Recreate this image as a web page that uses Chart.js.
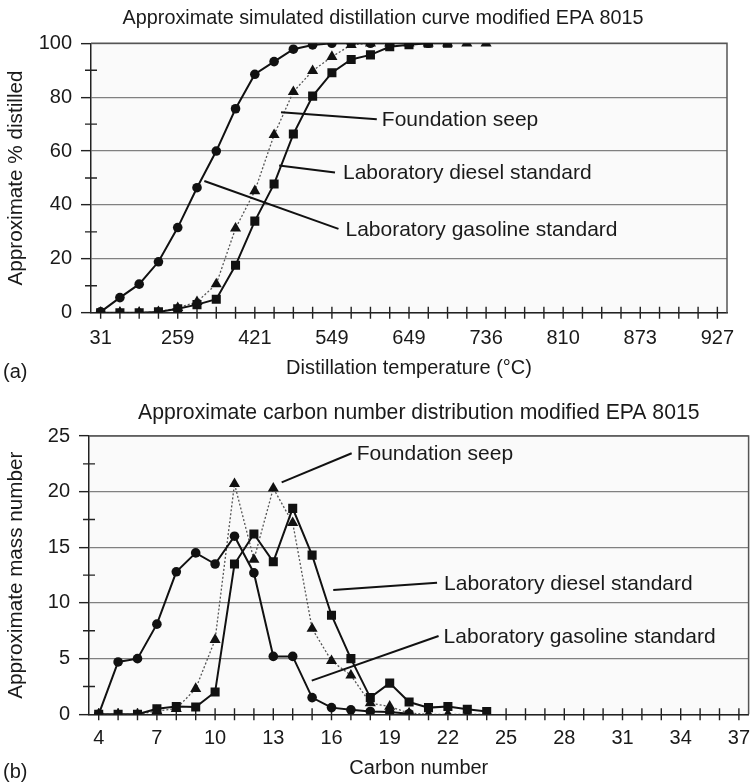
<!DOCTYPE html>
<html>
<head>
<meta charset="utf-8">
<script src="https://cdn.jsdelivr.net/npm/chart.js@4.4.1/dist/chart.umd.min.js"></script>
<style>
  html, body { margin: 0; padding: 0; background: #fff; }
  #page { position: relative; width: 755px; height: 782px; }
  #distCanvas { position: absolute; left: 0; top: 0; }
  #carbonCanvas { position: absolute; left: 0; top: 390px; }
</style>
</head>
<body>
<div id="page">
  <canvas id="distCanvas" width="755" height="390"></canvas>
  <canvas id="carbonCanvas" width="755" height="392"></canvas>
</div>
<script>
// ---- (a) simulated distillation curve ----
// temperature steps (°C); only every fourth step carries a printed label
const tempCategories = [
  '31', '', '', '', '259', '', '', '', '421', '', '', '', '549', '', '', '', '649',
  '', '', '', '736', '', '', '', '810', '', '', '', '873', '', '', '', '927'
];
const distGasoline = [0.3, 5.6, 10.6, 18.9, 31.6, 46.4, 60, 75.7, 88.5, 93.2, 97.8, 99.4, 100, 100, 100, 100, 100, 100];
const distSeep     = [0, 0, 0, 0.3, 1.8, 4.0, 10.6, 31.3, 45.2, 66, 82, 89.8, 95, 99.4, 100, 100, 100, 100, 100, 100, 100];
const distDiesel   = [0, 0, 0, 0.3, 1.5, 3.0, 5.0, 17.6, 34.0, 47.8, 66.3, 80.4, 89.1, 94, 95.7, 98.7, 99.5, 100, 100];

// ---- (b) carbon number distribution ----
const carbonNumbers = [4, 5, 6, 7, 8, 9, 10, 11, 12, 13, 14, 15, 16, 17, 18, 19, 20,
                       21, 22, 23, 24, 25, 26, 27, 28, 29, 30, 31, 32, 33, 34, 35, 36, 37];
const carbonGasoline = [0, 4.7, 5.0, 8.1, 12.8, 14.5, 13.5, 16.0, 12.7, 5.2, 5.2, 1.5, 0.6, 0.4, 0.25, 0.2, 0.05];
const carbonSeep     = [0, 0, 0, 0.3, 0.5, 2.3, 6.7, 20.7, 13.9, 20.3, 17.2, 7.7, 4.8, 3.5, 1.0, 0.7, 0.1, 0, 0, 0, 0];
const carbonDiesel   = [0, 0, 0, 0.5, 0.7, 0.65, 2.0, 13.5, 16.2, 13.7, 18.5, 14.3, 8.9, 5.0, 1.5, 2.8, 1.1, 0.6, 0.7, 0.45, 0.25];

const FONT = "'Liberation Sans', Arial, Helvetica, sans-serif";
const INK = '#1a1a1a';
Chart.defaults.font.family = FONT;
Chart.defaults.font.size = 20;
Chart.defaults.color = INK;

// Callout labels: line from a point on the curves (category index, value) to the text anchor
const distNotes = [
  { text: 'Foundation seep',              from: [9.36, 74.4], to: [14.33, 71.8], gap: 5 },
  { text: 'Laboratory diesel standard',   from: [9.26, 54.6], to: [12.16, 52.0], gap: 8 },
  { text: 'Laboratory gasoline standard', from: [5.38, 48.9], to: [12.34, 31.1], gap: 7 }
];
const carbonNotes = [
  { text: 'Foundation seep',              from: [9.43, 20.84], to: [13.04, 23.45], gap: 5 },
  { text: 'Laboratory diesel standard',   from: [12.09, 11.17], to: [17.44, 11.82], gap: 7 },
  { text: 'Laboratory gasoline standard', from: [10.98, 3.02],  to: [17.52, 7.03],  gap: 5 }
];

const panelFrame = {
  id: 'panelFrame',
  beforeDraw(chart) {
    const { ctx, chartArea: a } = chart;
    ctx.save();
    ctx.fillStyle = '#fafafa';
    ctx.fillRect(a.left, a.top, a.right - a.left, a.bottom - a.top);
    ctx.restore();
  },
  beforeDatasetsDraw(chart, args, o) {
    const { ctx, chartArea: a, scales: { x, y } } = chart;
    ctx.save();
    // outer frame on top and right
    ctx.strokeStyle = '#555';
    ctx.lineWidth = 1.5;
    ctx.beginPath();
    ctx.moveTo(a.left, a.top); ctx.lineTo(a.right, a.top); ctx.lineTo(a.right, a.bottom);
    ctx.stroke();
    // tick marks crossing the axes
    ctx.strokeStyle = '#222';
    ctx.lineWidth = 1.4;
    ctx.beginPath();
    for (let i = 0; i < chart.data.labels.length; i++) {
      const px = x.getPixelForValue(i);
      ctx.moveTo(px, a.bottom - 6); ctx.lineTo(px, a.bottom + 6);
    }
    for (const v of o.minorY) {
      const py = y.getPixelForValue(v);
      ctx.moveTo(a.left - 6, py); ctx.lineTo(a.left + 6, py);
    }
    ctx.stroke();
    ctx.restore();
  },
  afterDatasetsDraw(chart, args, o) {
    const { ctx, scales: { x, y } } = chart;
    ctx.save();
    ctx.strokeStyle = '#111';
    ctx.lineWidth = 2;
    ctx.fillStyle = INK;
    ctx.font = '21px ' + FONT;
    ctx.textAlign = 'left';
    ctx.textBaseline = 'middle';
    for (const n of o.notes) {
      const x0 = x.getPixelForValue(n.from[0]), y0 = y.getPixelForValue(n.from[1]);
      const x1 = x.getPixelForValue(n.to[0]),   y1 = y.getPixelForValue(n.to[1]);
      ctx.beginPath(); ctx.moveTo(x0, y0); ctx.lineTo(x1, y1); ctx.stroke();
      ctx.fillText(n.text, x1 + n.gap, y1 + 1);
    }
    ctx.restore();
  },
  afterDraw(chart, args, o) {
    const { ctx, chartArea: a } = chart;
    ctx.save();
    ctx.fillStyle = INK;
    // chart heading above the plot frame
    ctx.font = o.titleSize + 'px ' + FONT;
    ctx.textAlign = 'center';
    ctx.textBaseline = 'middle';
    ctx.fillText(o.title, (a.left + a.right) / 2 + o.titleShift, o.titleY);
    // panel letter
    ctx.font = '20px ' + FONT;
    ctx.textAlign = 'left';
    ctx.fillText(o.tag, 3, o.tagY);
    ctx.restore();
  }
};

function series(label, data, style) {
  const base = {
    label, data,
    borderColor: '#111', backgroundColor: '#111',
    pointBorderColor: '#111', pointBackgroundColor: '#111',
    borderWidth: 2, tension: 0, fill: false, pointBorderWidth: 0
  };
  if (style === 'circle') return { ...base, pointStyle: 'circle', pointRadius: 4.8 };
  if (style === 'rect')   return { ...base, pointStyle: 'rect', pointRadius: 6.4 };
  return { ...base, pointStyle: 'triangle', pointRadius: 6.4,
           borderColor: '#555', borderWidth: 1.3, borderDash: [2, 2] };
}

function buildChart(canvas, cfg) {
  return new Chart(canvas, {
    type: 'line',
    data: {
      labels: cfg.labels,
      datasets: [
        series('Laboratory gasoline standard', cfg.gasoline, 'circle'),
        series('Laboratory diesel standard', cfg.diesel, 'rect'),
        series('Foundation seep', cfg.seep, 'triangle')
      ]
    },
    options: {
      responsive: false,
      animation: false,
      events: [],
      layout: { padding: { left: 0, right: cfg.padRight, top: cfg.padTop, bottom: 0 } },
      plugins: {
        legend: { display: false },
        tooltip: { enabled: false },
        title: { display: false },
        panelFrame: {
          notes: cfg.notes, minorY: cfg.minorY, tag: cfg.tag, tagY: cfg.tagY,
          title: cfg.title, titleSize: cfg.titleSize, titleY: cfg.titleY, titleShift: cfg.titleShift
        }
      },
      scales: {
        x: {
          type: 'category', offset: true,
          grid: { display: false },
          border: { display: true, color: '#222', width: 1.5 },
          ticks: {
            autoSkip: false, maxRotation: 0, minRotation: 0, padding: cfg.xTickPad, color: INK,
            callback: (v, i) => cfg.tickText(i)
          },
          title: { display: true, text: cfg.xTitle, color: INK, padding: { top: 0, bottom: cfg.xTitlePad } },
          afterFit: s => { s.height = cfg.xHeight; }
        },
        y: {
          min: 0, max: cfg.yMax,
          ticks: { stepSize: cfg.yStep, padding: 9, color: INK },
          grid: { color: '#808080', lineWidth: 1.3, tickLength: 10, tickColor: '#222', tickWidth: 1.4 },
          border: { display: true, color: '#222', width: 1.5 },
          title: { display: true, text: cfg.yTitle, color: INK, font: { size: 20.7 }, padding: { top: 4, bottom: 0 } },
          afterFit: s => { s.width = cfg.yWidth; }
        }
      }
    },
    plugins: [panelFrame]
  });
}

buildChart(document.getElementById('distCanvas'), {
  labels: tempCategories,
  tickText: i => tempCategories[i],
  gasoline: distGasoline, diesel: distDiesel, seep: distSeep,
  title: 'Approximate simulated distillation curve modified EPA 8015',
  titleSize: 19.8, titleY: 19, titleShift: -26, padTop: 43.3,
  xTitle: 'Distillation temperature (°C)', xTitlePad: 10, xTickPad: 5.8, xHeight: 77.3,
  yTitle: 'Approximate % distilled', yMax: 100, yStep: 20, yWidth: 91,
  minorY: [10, 30, 50, 70, 90],
  padRight: 28,
  notes: distNotes, tag: '(a)', tagY: 372
});

buildChart(document.getElementById('carbonCanvas'), {
  labels: carbonNumbers.map(String),
  tickText: i => (i % 3 === 0 ? String(carbonNumbers[i]) : ''),
  gasoline: carbonGasoline, diesel: carbonDiesel, seep: carbonSeep,
  title: 'Approximate carbon number distribution modified EPA 8015',
  titleSize: 21.2, titleY: 23, titleShift: 0, padTop: 46,
  xTitle: 'Carbon number', xTitlePad: 2, xTickPad: 3.7, xHeight: 67.7,
  yTitle: 'Approximate mass number', yMax: 25, yStep: 5, yWidth: 89,
  minorY: [2.5, 7.5, 12.5, 17.5, 22.5],
  padRight: 4,
  notes: carbonNotes, tag: '(b)', tagY: 382
});
</script>
</body>
</html>
